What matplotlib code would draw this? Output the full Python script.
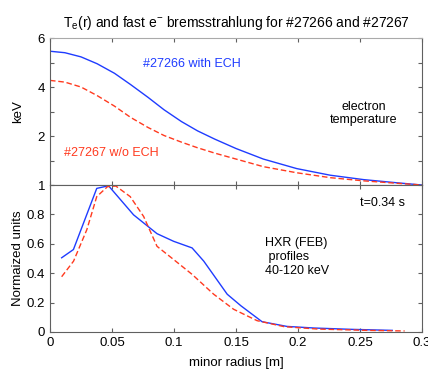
import matplotlib
matplotlib.use("Agg")
import matplotlib.pyplot as plt

plt.rcParams['font.family'] = ['Liberation Sans', 'DejaVu Sans']

# electron temperature profiles (keV) vs minor radius (m)
te_r = [0.0, 0.012, 0.025, 0.038, 0.052, 0.065, 0.079, 0.092, 0.106, 0.119,
        0.133, 0.150, 0.172, 0.199, 0.226, 0.253, 0.280, 0.30]
te_ech = [5.46, 5.40, 5.23, 4.95, 4.56, 4.10, 3.58, 3.07, 2.59, 2.21,
          1.87, 1.49, 1.06, 0.67, 0.40, 0.22, 0.09, 0.0]
te_noech = [4.27, 4.20, 4.0, 3.65, 3.22, 2.76, 2.35, 2.02, 1.75, 1.52,
            1.30, 1.06, 0.75, 0.50, 0.30, 0.17, 0.07, 0.0]

# HXR (FEB) normalized profiles
hxr_r_ech = [0.0094, 0.0189, 0.0377, 0.0472, 0.0674, 0.0863, 0.0997, 0.1146,
             0.124, 0.1429, 0.154, 0.171, 0.191, 0.213, 0.243, 0.276]
hxr_ech = [0.505, 0.561, 0.977, 0.995, 0.797, 0.669, 0.617, 0.572,
           0.482, 0.257, 0.178, 0.070, 0.038, 0.027, 0.018, 0.011]
hxr_r_noech = [0.0094, 0.019, 0.0297, 0.0377, 0.0464, 0.0531, 0.0647, 0.0755,
               0.0863, 0.0997, 0.1146, 0.132, 0.148, 0.167, 0.189, 0.216,
               0.256, 0.286]
hxr_noech = [0.376, 0.482, 0.696, 0.921, 0.989, 0.993, 0.921, 0.786,
             0.583, 0.493, 0.392, 0.257, 0.155, 0.077, 0.036, 0.020,
             0.011, 0.007]

xticks = [0, 0.05, 0.1, 0.15, 0.2, 0.25, 0.3]
xticklabels = ['0', '0.05', '0.1', '0.15', '0.2', '0.25', '0.3']

blue = '#1f3cff'
red = '#ff3a1f'
spine = '#606060'
fs = 9

fig = plt.figure(figsize=(4.28, 3.69), dpi=100)
ax1 = fig.add_axes([0.1168, 0.4986, 0.8692, 0.3984])
ax2 = fig.add_axes([0.1168, 0.1003, 0.8692, 0.3983])

ax1.plot(te_r, te_ech, color=blue, lw=1.0, solid_joinstyle='round')
ax1.plot(te_r, te_noech, color=red, lw=1.0, ls=(0, (4, 2)))
ax1.set_xlim(0, 0.3)
ax1.set_ylim(0, 6)
ax1.set_yticks([0, 1, 2, 3, 4, 5, 6])
ax1.set_yticklabels(['', '', '2', '', '4', '', '6'])
ax1.set_xticks(xticks)
ax1.set_xticklabels([])
ax1.set_ylabel('keV', fontsize=fs + 0.5, labelpad=10)
ax1.set_title(r'T$_\mathregular{e}$(r) and fast e$^\mathregular{-}$ bremsstrahlung for #27266 and #27267',
              fontsize=fs + 1, pad=8)
ax1.text(0.075, 4.82, '#27266 with ECH', color=blue, fontsize=fs)
ax1.text(0.253, 2.55, 'electron\ntemperature', ha='center', fontsize=fs,
         linespacing=1.1)
ax1.text(0.011, 1.18, '#27267 w/o ECH', color=red, fontsize=fs)

ax2.plot(hxr_r_ech, hxr_ech, color=blue, lw=1.0)
ax2.plot(hxr_r_noech, hxr_noech, color=red, lw=1.0, ls=(0, (4, 2)))
ax2.set_xlim(0, 0.3)
ax2.set_ylim(0, 1)
ax2.set_yticks([0, 0.2, 0.4, 0.6, 0.8, 1])
ax2.set_yticklabels(['0', '0.2', '0.4', '0.6', '0.8', '1'])
ax2.set_xticks(xticks)
ax2.set_xticklabels(xticklabels)
ax2.set_xlabel('minor radius [m]', fontsize=fs + 0.5, labelpad=6)
ax2.set_ylabel('Normaized units', fontsize=fs + 0.5, labelpad=2)
ax2.text(0.25, 0.855, 't=0.34 s', fontsize=fs)
ax2.text(0.173, 0.645, 'HXR (FEB)\n profiles\n40-120 keV', fontsize=fs,
         linespacing=1.2, va='top')

for ax in (ax1, ax2):
    ax.tick_params(direction='in', length=3, width=0.8, colors=spine,
                   labelcolor='black', labelsize=fs + 0.5,
                   top=True, right=True)
    for s in ax.spines.values():
        s.set_color(spine)
        s.set_linewidth(0.8)
ax1.spines['top'].set_color('#aaaaaa')

fig.savefig('out.png', dpi=100)
